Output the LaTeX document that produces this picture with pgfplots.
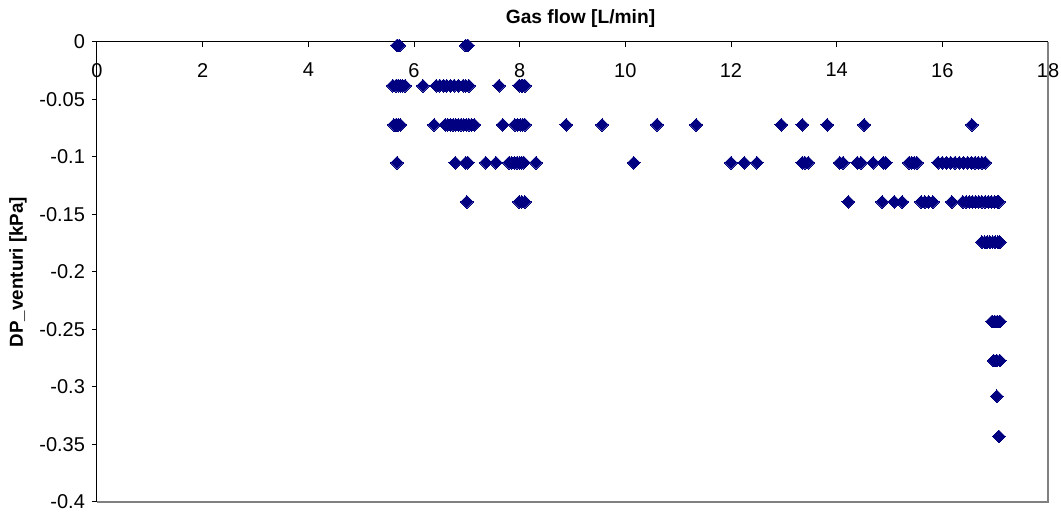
\documentclass[border=0pt]{standalone}
\usepackage{fontspec}
\setmainfont{Liberation Sans}
\usepackage{pgfplots}
\pgfplotsset{compat=1.18}
\definecolor{navy}{HTML}{000080}
\definecolor{framegray}{HTML}{808080}

% Venturi differential pressure against gas flow
\pgfplotstableread{
x y
5.68 -0.003
5.72 -0.003
6.98 -0.003
7.02 -0.003
5.60 -0.038
5.66 -0.038
5.70 -0.038
5.74 -0.038
5.78 -0.038
5.83 -0.038
6.17 -0.038
6.42 -0.038
6.49 -0.038
6.56 -0.038
6.62 -0.038
6.69 -0.038
6.76 -0.038
6.84 -0.038
6.93 -0.038
6.98 -0.038
7.04 -0.038
7.61 -0.038
7.99 -0.038
8.03 -0.038
8.06 -0.038
8.10 -0.038
5.62 -0.072
5.66 -0.072
5.70 -0.072
5.74 -0.072
6.38 -0.072
6.59 -0.072
6.64 -0.072
6.69 -0.072
6.74 -0.072
6.79 -0.072
6.84 -0.072
6.89 -0.072
6.94 -0.072
6.99 -0.072
7.04 -0.072
7.09 -0.072
7.14 -0.072
7.68 -0.072
7.91 -0.072
7.96 -0.072
8.01 -0.072
8.06 -0.072
8.10 -0.072
8.88 -0.072
9.56 -0.072
10.60 -0.072
11.34 -0.072
12.95 -0.072
13.35 -0.072
13.82 -0.072
14.52 -0.072
16.56 -0.072
5.68 -0.105
6.78 -0.105
6.98 -0.105
7.02 -0.105
7.36 -0.105
7.55 -0.105
7.80 -0.105
7.85 -0.105
7.90 -0.105
7.95 -0.105
8.00 -0.105
8.04 -0.105
8.08 -0.105
8.31 -0.105
10.16 -0.105
12.00 -0.105
12.25 -0.105
12.49 -0.105
13.35 -0.105
13.40 -0.105
13.46 -0.105
14.06 -0.105
14.12 -0.105
14.39 -0.105
14.46 -0.105
14.69 -0.105
14.88 -0.105
14.93 -0.105
15.37 -0.105
15.42 -0.105
15.47 -0.105
15.52 -0.105
15.92 -0.105
16.00 -0.105
16.08 -0.105
16.16 -0.105
16.24 -0.105
16.32 -0.105
16.40 -0.105
16.48 -0.105
16.55 -0.105
16.62 -0.105
16.68 -0.105
16.75 -0.105
16.81 -0.105
7.00 -0.139
7.99 -0.139
8.04 -0.139
8.10 -0.139
14.22 -0.139
14.86 -0.139
15.09 -0.139
15.24 -0.139
15.60 -0.139
15.67 -0.139
15.74 -0.139
15.82 -0.139
16.18 -0.139
16.39 -0.139
16.45 -0.139
16.51 -0.139
16.57 -0.139
16.63 -0.139
16.69 -0.139
16.75 -0.139
16.81 -0.139
16.87 -0.139
16.93 -0.139
16.99 -0.139
17.04 -0.139
17.07 -0.139
16.75 -0.174
16.80 -0.174
16.85 -0.174
16.90 -0.174
16.95 -0.174
17.00 -0.174
17.05 -0.174
17.09 -0.174
16.94 -0.243
16.99 -0.243
17.04 -0.243
17.09 -0.243
16.97 -0.277
17.03 -0.277
17.09 -0.277
17.03 -0.308
17.07 -0.343
}\venturi

\begin{document}
\begin{tikzpicture}
\begin{axis}[
  scale only axis,
  width=475.5pt, height=230pt,
  xmin=0, xmax=18, ymin=-0.4, ymax=0,
  axis x line*=top, axis y line*=left,
  axis line style={-, black, line width=0.5pt},
  xtick={0,2,4,6,8,10,12,14,16,18},
  xticklabels={0,2,4,6,8,10,12,14,16,18},
  xtick align=inside,
  ytick={-0.4,-0.35,-0.3,-0.25,-0.2,-0.15,-0.1,-0.05,0},
  yticklabels={-0.4,-0.35,-0.3,-0.25,-0.2,-0.15,-0.1,-0.05,0},
  ytick align=outside,
  major tick length=2.5pt,
  tick style={black, line width=0.5pt},
  /pgf/number format/assume math mode=true,
  ticklabel style={font=\fontsize{10}{12}\selectfont},
  xticklabel style={anchor=north, yshift=-7pt},
  clip=false,
]
\draw[framegray, line width=0.75pt] (rel axis cs:0,0) -- (rel axis cs:1,0) -- (rel axis cs:1,1);
\addplot[only marks, mark=square*, mark size=2.25pt,
  mark options={rotate=45, fill=navy, draw=navy, line width=0pt}]
  table {\venturi};
\coordinate (bl) at (rel axis cs:0,0);
\coordinate (tr) at (rel axis cs:1,1);
\node[font=\bfseries\fontsize{9.6}{11}\selectfont] at (rel axis cs:0.5,1) [yshift=11.5pt, xshift=4pt] {Gas flow [L/min]};
\node[font=\bfseries\fontsize{9.4}{11}\selectfont, rotate=90] at (rel axis cs:-0.083,0.5) {DP\_venturi [kPa]};
\end{axis}
\pgfresetboundingbox
\path ([shift={(-48.5pt,-5pt)}]bl) rectangle ([shift={(6.5pt,21pt)}]tr);
\end{tikzpicture}
\end{document}
